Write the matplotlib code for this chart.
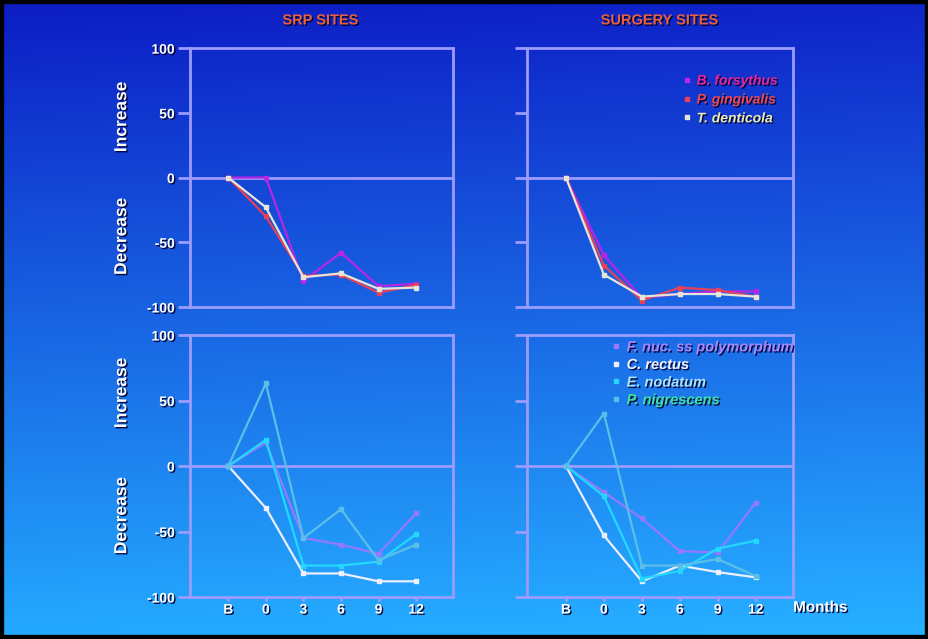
import numpy as np
import matplotlib
matplotlib.use("Agg")
import matplotlib.pyplot as plt
import matplotlib.patheffects as pe
from matplotlib.lines import Line2D
from matplotlib.patches import Rectangle

plt.rcParams['font.family'] = ['Liberation Sans', 'DejaVu Sans']

# временные точки (месяцы)
months = ["B", "0", "3", "6", "9", "12"]

# красный комплекс
red_names = ["B. forsythus", "P. gingivalis", "T. denticola"]
srp_bf = [0, 0, -80, -58, -84, -82]
srp_pg = [0, -30, -76, -75, -89, -83]
srp_td = [0, -23, -77, -74, -86, -85]
surg_bf = [0, -60, -93, -90, -88, -88]
surg_pg = [0, -68, -95, -85, -87, -92]
surg_td = [0, -75, -92, -90, -90, -92]

# оранжевый комплекс
orange_names = ["F. nuc. ss polymorphum", "C. rectus", "E. nodatum", "P. nigrescens"]
srp_fn = [0, 18, -55, -60, -67, -36]
srp_cr = [0, -32, -82, -82, -88, -88]
srp_en = [0, 20, -76, -76, -73, -52]
srp_pn = [0, 63, -55, -33, -72, -60]
surg_fn = [0, -20, -40, -65, -66, -28]
surg_cr = [0, -53, -88, -76, -81, -85]
surg_en = [0, -23, -86, -80, -63, -57]
surg_pn = [0, 40, -76, -76, -71, -84]

red_cols = ['#b526e6', '#e8405a', '#e6e6d8']
red_text = ['#e8249a', '#f04848', '#ececb0']
orange_cols = ['#9478ff', '#eeeeff', '#22d8ff', '#5ac0e8']
orange_text = ['#a888ff', '#f4f4ff', '#a8e4ff', '#40e0a0']

spine_c = '#9c9cff'
shadow = [pe.withSimplePatchShadow(offset=(1, -1), shadow_rgbFace='#000030', alpha=0.9)]

fig = plt.figure(figsize=(9.29, 6.39), dpi=100)

# фон - градиент
bg = fig.add_axes([0, 0, 1, 1], zorder=-10)
t = np.linspace(0, 1, 300)[:, None]
s = np.linspace(0, 1, 300)[None, :]
top = np.array([12, 28, 196]) / 255
bot = np.array([36, 170, 255]) / 255
img = top[None, None, :] * (1 - t[..., None]) + bot[None, None, :] * t[..., None]
img = img + 0.06 * s[..., None] * np.array([0.2, 0.5, 0.3])
bg.imshow(np.clip(img, 0, 1), aspect='auto', extent=[0, 1, 0, 1])
bg.axis('off')


def panel(rect, series, colors, ylabels, xlabels):
    ax = fig.add_axes(rect)
    ax.set_facecolor('none')
    x = np.arange(len(months))
    for y, c in zip(series, colors):
        ax.plot(x, y, color=c, lw=1.6, marker='s', ms=2.5, zorder=3)
    ax.axhline(0, color=spine_c, lw=2, zorder=2)
    ax.set_xlim(-1.02, 5.98)
    ax.set_ylim(-100, 100)
    for sp in ax.spines.values():
        sp.set_color(spine_c)
        sp.set_linewidth(2)
    ax.set_yticks([-100, -50, 0, 50, 100])
    ax.tick_params(axis='y', color=spine_c, labelcolor='white', length=9, width=2,
                   direction='out', pad=2)
    if ylabels:
        ax.set_yticklabels(['-100', '-50', '0', '50', '100'], fontsize=10, fontweight='bold')
        for lab in ax.get_yticklabels():
            lab.set_path_effects(shadow)
    else:
        ax.set_yticklabels([])
    ax.set_xticks(x)
    if xlabels:
        ax.set_xticklabels(months, fontsize=10, fontweight='bold')
        ax.tick_params(axis='x', color=spine_c, labelcolor='white', length=3, width=2, pad=1)
        for lab in ax.get_xticklabels():
            lab.set_path_effects(shadow)
    else:
        ax.set_xticklabels([])
        ax.tick_params(axis='x', length=0)
    return ax


ax1 = panel([0.2045, 0.5196, 0.283, 0.405], [srp_bf, srp_pg, srp_td], red_cols, True, False)
ax2 = panel([0.5675, 0.5196, 0.286, 0.405], [surg_bf, surg_pg, surg_td], red_cols, False, False)
ax3 = panel([0.2045, 0.0657, 0.283, 0.41], [srp_fn, srp_cr, srp_en, srp_pn], orange_cols, True, True)
ax4 = panel([0.5675, 0.0657, 0.286, 0.41], [surg_fn, surg_cr, surg_en, surg_pn], orange_cols, False, True)

# легенды
h_red = [Line2D([], [], ls='none', marker='s', ms=3, color=c) for c in red_cols]
leg = ax2.legend(h_red, red_names, loc='upper right', bbox_to_anchor=(0.99, 0.95),
                 frameon=False, handlelength=0.6, handletextpad=0.4, labelspacing=0.35,
                 labelcolor=red_text, prop={'style': 'italic', 'weight': 'bold', 'size': 10})
for txt in leg.get_texts():
    txt.set_path_effects(shadow)

h_or = [Line2D([], [], ls='none', marker='s', ms=3, color=c) for c in orange_cols]
leg2 = ax4.legend(h_or, orange_names, loc='upper left', bbox_to_anchor=(0.27, 1.03),
                  frameon=False, handlelength=0.6, handletextpad=0.4, labelspacing=0.25,
                  labelcolor=orange_text, prop={'style': 'italic', 'weight': 'bold', 'size': 10.5})
for txt in leg2.get_texts():
    txt.set_path_effects(shadow)

# заголовки и подписи
for xc, title in [(0.345, "SRP SITES"), (0.71, "SURGERY SITES")]:
    fig.text(xc, 0.968, title, color='#e8603c', fontsize=10.5, fontweight='bold',
             ha='center', va='center', path_effects=shadow)

for yc, lab in [(0.817, "Increase"), (0.630, "Decrease"), (0.385, "Increase"), (0.193, "Decrease")]:
    fig.text(0.131, yc, lab, color='white', fontsize=12.5, fontweight='bold', rotation=90,
             ha='center', va='center', path_effects=shadow)

fig.text(0.883, 0.049, "Months", color='white', fontsize=11, fontweight='bold',
         ha='center', va='center', path_effects=shadow)

# черная рамка
fig.patches.append(Rectangle((0, 0), 1, 1, transform=fig.transFigure, fill=False,
                             edgecolor='black', lw=6, zorder=20))

fig.savefig("out.png", dpi=100)
